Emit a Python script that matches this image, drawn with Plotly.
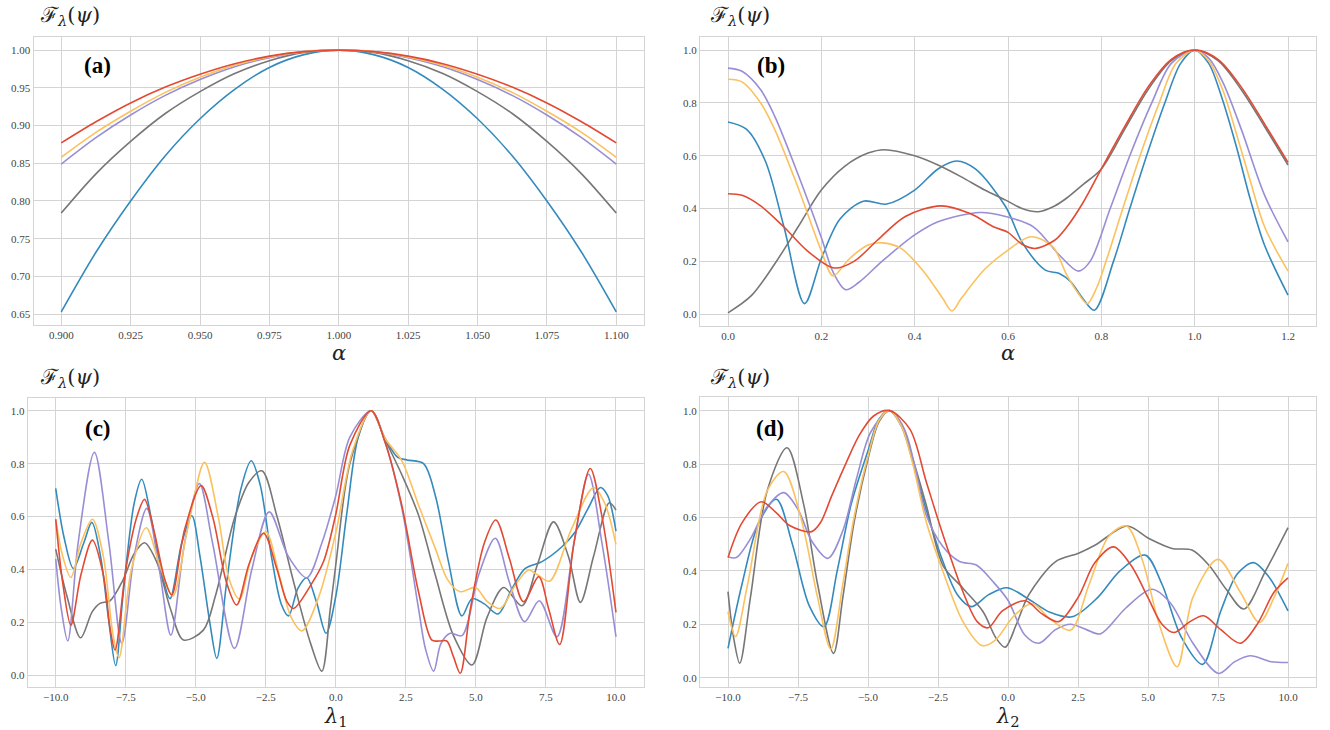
import plotly.graph_objects as go

W, H = 1330, 730
COLORS = {"red": "#E24A33", "blue": "#348ABD", "purple": "#988ED5", "gray": "#777777", "yellow": "#FBC15E"}
ORDER = ["blue", "gray", "purple", "yellow", "red"]

# ---------------- panel (a) ----------------
alpha_a = [0.900, 0.9125, 0.925, 0.9375, 0.950, 0.9625, 0.975, 0.9875, 1.000,
           1.0125, 1.025, 1.0375, 1.050, 1.0625, 1.075, 1.0875, 1.100]
a_blue = [0.653, 0.732, 0.800, 0.860, 0.909, 0.948, 0.977, 0.994, 1.0,
          0.994, 0.977, 0.948, 0.909, 0.860, 0.800, 0.732, 0.653]
a_gray = [0.784, 0.836, 0.879, 0.916, 0.945, 0.969, 0.986, 0.997, 1.0,
          0.997, 0.986, 0.969, 0.945, 0.916, 0.879, 0.836, 0.784]
a_purple = [0.849, 0.884, 0.914, 0.940, 0.961, 0.978, 0.990, 0.998, 1.0,
            0.998, 0.990, 0.978, 0.961, 0.940, 0.914, 0.884, 0.849]
a_yellow = [0.858, 0.891, 0.919, 0.944, 0.964, 0.980, 0.991, 0.998, 1.0,
            0.998, 0.991, 0.980, 0.964, 0.944, 0.919, 0.891, 0.858]
a_red = [0.877, 0.905, 0.930, 0.951, 0.968, 0.982, 0.992, 0.998, 1.0,
         0.998, 0.992, 0.982, 0.968, 0.951, 0.930, 0.905, 0.877]

# ---------------- panel (b) ----------------
b_blue_x = [0, 0.04, 0.08, 0.12, 0.164, 0.2, 0.24, 0.29, 0.34, 0.4, 0.45, 0.49, 0.53, 0.595, 0.631, 0.68, 0.71,
            0.735, 0.76, 0.785, 0.826, 0.861, 0.897, 0.936, 0.97, 1.0, 1.03, 1.06, 1.09, 1.12, 1.15, 1.2]
b_blue_y = [0.728, 0.70, 0.58, 0.33, 0.04, 0.21, 0.36, 0.428, 0.417, 0.47, 0.55, 0.58, 0.55, 0.407, 0.27, 0.167, 0.154,
            0.122, 0.06, 0.015, 0.2, 0.4, 0.6, 0.8, 0.95, 1.0, 0.95, 0.81, 0.63, 0.43, 0.26, 0.072]
b_red_x = [0, 0.03, 0.07, 0.12, 0.17, 0.227, 0.27, 0.32, 0.38, 0.456, 0.52, 0.57, 0.6, 0.63, 0.658, 0.7, 0.726,
           0.76, 0.8, 0.85, 0.9, 0.95, 1.0, 1.05, 1.1, 1.15, 1.2]
b_red_y = [0.456, 0.45, 0.41, 0.33, 0.24, 0.175, 0.2, 0.28, 0.37, 0.41, 0.38, 0.33, 0.31, 0.265, 0.249, 0.28, 0.33,
           0.42, 0.55, 0.71, 0.86, 0.965, 1.0, 0.965, 0.86, 0.72, 0.575]
b_gray_x = [0, 0.05, 0.1, 0.15, 0.2, 0.25, 0.3, 0.335, 0.4, 0.45, 0.5, 0.55, 0.595, 0.63, 0.665, 0.7, 0.726, 0.76,
            0.8, 0.85, 0.9, 0.95, 1.0, 1.05, 1.1, 1.15, 1.2]
b_gray_y = [0.005, 0.07, 0.19, 0.33, 0.47, 0.56, 0.61, 0.623, 0.6, 0.565, 0.52, 0.47, 0.432, 0.4, 0.388, 0.41, 0.44,
            0.49, 0.55, 0.7, 0.85, 0.96, 1.0, 0.96, 0.85, 0.71, 0.565]
b_purple_x = [0, 0.03, 0.07, 0.1, 0.15, 0.2, 0.225, 0.252, 0.28, 0.33, 0.4, 0.45, 0.54, 0.595, 0.655, 0.71, 0.751,
              0.776, 0.819, 0.861, 0.908, 0.95, 1.0, 1.03, 1.06, 1.1, 1.15, 1.2]
b_purple_y = [0.932, 0.92, 0.85, 0.75, 0.53, 0.29, 0.16, 0.093, 0.12, 0.2, 0.3, 0.35, 0.385, 0.37, 0.33, 0.224, 0.163,
              0.2, 0.4, 0.6, 0.8, 0.95, 1.0, 0.97, 0.88, 0.7, 0.45, 0.274]
b_yellow_x = [0, 0.03, 0.07, 0.1, 0.15, 0.2, 0.225, 0.26, 0.3, 0.33, 0.37, 0.42, 0.46, 0.48, 0.5, 0.55, 0.595, 0.649,
              0.696, 0.726, 0.75, 0.77, 0.79, 0.81, 0.846, 0.883, 0.924, 0.96, 1.0, 1.03, 1.06, 1.09, 1.12, 1.15, 1.2]
b_yellow_y = [0.89, 0.88, 0.8, 0.7, 0.48, 0.24, 0.145, 0.21, 0.262, 0.27, 0.25, 0.16, 0.06, 0.012, 0.06, 0.17, 0.236,
              0.293, 0.255, 0.148, 0.08, 0.04, 0.1, 0.2, 0.4, 0.6, 0.8, 0.95, 1.0, 0.96, 0.85, 0.68, 0.5, 0.33, 0.163]

# ---------------- panel (c) ----------------
c_blue_x = [-10, -9.7, -9.37, -9.0, -8.71, -8.4, -8.1, -7.86, -7.6, -7.2, -6.93, -6.6, -6.2, -5.92, -5.5, -5.14, -4.85,
            -4.5, -4.25, -3.9, -3.4, -3.02, -2.7, -2.3, -1.95, -1.69, -1.35, -1.04, -0.7, -0.35, 0, 0.4, 0.8, 1.26,
            1.76, 2.2, 2.54, 3.13, 3.55, 4.02, 4.5, 4.86, 5.3, 5.79, 6.3, 6.76, 7.36, 8.07, 8.55, 9.0, 9.44, 9.7, 10]
c_blue_y = [0.707, 0.52, 0.404, 0.5, 0.578, 0.45, 0.2, 0.037, 0.3, 0.65, 0.741, 0.6, 0.38, 0.29, 0.5, 0.603, 0.45,
            0.2, 0.064, 0.35, 0.7, 0.811, 0.72, 0.45, 0.27, 0.225, 0.33, 0.369, 0.28, 0.159, 0.30, 0.62, 0.9, 1.0,
            0.895, 0.825, 0.814, 0.80, 0.68, 0.43, 0.225, 0.29, 0.27, 0.232, 0.33, 0.404, 0.43, 0.486, 0.543, 0.63,
            0.71, 0.68, 0.545]
c_red_x = [-10, -9.75, -9.46, -9.1, -8.69, -8.3, -8.05, -7.88, -7.5, -7.1, -6.83, -6.5, -6.1, -5.86, -5.4, -4.81, -4.4,
           -3.9, -3.54, -3.1, -2.58, -2.1, -1.75, -1.51, -0.9, -0.44, 0, 0.5, 1.26, 1.76, 2.36, 2.95, 3.43, 3.7, 3.96,
           4.2, 4.44, 4.8, 5.3, 5.71, 6.2, 6.7, 7.24, 7.6, 7.99, 8.5, 9.08, 9.5, 10]
c_red_y = [0.59, 0.35, 0.19, 0.38, 0.511, 0.38, 0.17, 0.096, 0.4, 0.6, 0.665, 0.55, 0.36, 0.304, 0.55, 0.717, 0.6,
           0.35, 0.266, 0.42, 0.537, 0.4, 0.28, 0.253, 0.34, 0.43, 0.61, 0.87, 1.0, 0.88, 0.64, 0.316, 0.133, 0.13,
           0.13, 0.07, 0.008, 0.25, 0.5, 0.587, 0.44, 0.278, 0.373, 0.25, 0.117, 0.5, 0.782, 0.6, 0.238]
c_purple_x = [-10, -9.8, -9.57, -9.2, -8.62, -8.1, -7.64, -7.2, -6.75, -6.3, -5.89, -5.4, -4.87, -4.4, -3.62, -3.0,
              -2.38, -1.7, -1.04, -0.5, 0, 0.5, 1.26, 1.76, 2.36, 2.95, 3.2, 3.49, 3.75, 4.08, 4.5, 5.1, 5.69, 6.2,
              6.74, 7.26, 7.89, 8.5, 9.02, 9.5, 10]
c_purple_y = [0.44, 0.25, 0.13, 0.5, 0.843, 0.5, 0.121, 0.45, 0.631, 0.4, 0.152, 0.5, 0.725, 0.5, 0.102, 0.4,
              0.618, 0.45, 0.369, 0.5, 0.68, 0.9, 1.0, 0.88, 0.63, 0.253, 0.1, 0.016, 0.12, 0.159, 0.15, 0.38, 0.518,
              0.35, 0.203, 0.282, 0.146, 0.5, 0.76, 0.5, 0.146]
c_yellow_x = [-10, -9.75, -9.46, -9.1, -8.69, -8.3, -7.95, -7.74, -7.3, -6.77, -6.3, -5.82, -5.3, -4.69, -4.2, -3.8,
              -3.44, -3.0, -2.5, -2.0, -1.6, -1.21, -0.6, 0, 0.6, 1.26, 1.76, 2.36, 2.95, 3.55, 4.0, 4.44, 4.98, 5.4,
              5.87, 6.4, 6.88, 7.2, 7.63, 8.4, 9.2, 9.6, 10]
c_yellow_y = [0.59, 0.45, 0.37, 0.5, 0.59, 0.45, 0.15, 0.067, 0.4, 0.558, 0.42, 0.30, 0.55, 0.805, 0.6, 0.36,
              0.288, 0.45, 0.543, 0.37, 0.22, 0.168, 0.3, 0.54, 0.85, 1.0, 0.895, 0.81, 0.644, 0.48, 0.36, 0.316,
              0.332, 0.28, 0.253, 0.34, 0.398, 0.38, 0.356, 0.55, 0.71, 0.65, 0.495]
c_gray_x = [-10, -9.6, -9.11, -8.7, -8.42, -8.06, -7.6, -7.2, -6.83, -6.4, -5.9, -5.44, -4.73, -4.3, -3.6, -3.1, -2.64,
            -2.1, -1.5, -0.9, -0.5, -0.2, 0, 0.5, 1.26, 1.76, 2.36, 2.95, 3.55, 4.2, 4.86, 5.4, 5.99, 6.64, 7.2, 7.77,
            8.3, 8.73, 9.2, 9.76, 10]
c_gray_y = [0.477, 0.3, 0.142, 0.24, 0.272, 0.282, 0.36, 0.46, 0.501, 0.43, 0.25, 0.134, 0.171, 0.3, 0.6, 0.73, 0.773,
            0.6, 0.35, 0.12, 0.016, 0.25, 0.42, 0.8, 1.0, 0.89, 0.757, 0.606, 0.379, 0.15, 0.039, 0.22, 0.332, 0.263,
            0.42, 0.58, 0.45, 0.276, 0.45, 0.652, 0.625]

# ---------------- panel (d) ----------------
d_red_x = [-10, -9.5, -8.81, -8.3, -7.8, -7.02, -6.7, -6.3, -5.8, -5.3, -4.8, -4.23, -3.5, -2.92, -2.32, -1.61, -1.1,
           -0.71, -0.2, 0.62, 1.2, 1.81, 2.5, 3.1, 3.77, 4.4, 5.0, 5.5, 5.92, 6.5, 6.99, 7.6, 8.3, 8.9, 9.5, 10]
d_red_y = [0.45, 0.58, 0.659, 0.62, 0.57, 0.547, 0.58, 0.68, 0.8, 0.91, 0.98, 1.0, 0.93, 0.734, 0.534, 0.322, 0.21,
           0.187, 0.25, 0.288, 0.24, 0.21, 0.3, 0.43, 0.49, 0.42, 0.3, 0.2, 0.169, 0.21, 0.232, 0.18, 0.129, 0.2,
           0.32, 0.374]
d_gray_x = [-10, -9.8, -9.58, -9.2, -8.6, -7.89, -7.3, -6.8, -6.23, -5.9, -5.5, -5.0, -4.6, -4.23, -3.8, -3.4, -2.92,
            -2.32, -1.61, -0.89, -0.42, -0.1, 0.3, 0.74, 1.69, 2.52, 3.12, 4.25, 5.02, 5.86, 6.57, 7.17, 7.8, 8.42,
            9.2, 10]
d_gray_y = [0.322, 0.15, 0.054, 0.3, 0.7, 0.861, 0.65, 0.35, 0.091, 0.3, 0.58, 0.82, 0.96, 1.0, 0.95, 0.82, 0.647,
            0.42, 0.335, 0.247, 0.147, 0.114, 0.2, 0.31, 0.434, 0.466, 0.497, 0.568, 0.522, 0.484, 0.478, 0.422,
            0.33, 0.257, 0.4, 0.562]
d_yellow_x = [-10, -9.73, -9.3, -8.6, -8.01, -7.4, -6.8, -6.33, -5.9, -5.5, -5.0, -4.6, -4.23, -3.8, -3.4, -2.92,
              -2.32, -1.61, -0.92, -0.45, 0.2, 0.86, 1.5, 2.23, 2.9, 3.6, 4.23, 4.8, 5.4, 6.04, 6.6, 7.5, 8.3, 8.98,
              9.5, 10]
d_yellow_y = [0.247, 0.154, 0.35, 0.7, 0.772, 0.6, 0.3, 0.107, 0.35, 0.6, 0.83, 0.965, 1.0, 0.94, 0.8, 0.584,
              0.397, 0.21, 0.12, 0.141, 0.23, 0.278, 0.22, 0.178, 0.35, 0.53, 0.568, 0.44, 0.2, 0.041, 0.3, 0.443,
              0.32, 0.207, 0.3, 0.428]
d_blue_x = [-10, -9.5, -8.9, -8.27, -7.7, -7.1, -6.57, -6.1, -5.6, -5.0, -4.6, -4.23, -3.8, -3.4, -2.92, -2.32, -1.8,
            -1.31, -0.7, -0.04, 0.8, 1.5, 2.29, 3.2, 4.0, 4.9, 5.5, 6.2, 6.95, 7.6, 8.2, 8.77, 9.3, 10]
d_blue_y = [0.11, 0.35, 0.58, 0.668, 0.5, 0.27, 0.191, 0.4, 0.65, 0.85, 0.97, 1.0, 0.94, 0.81, 0.628, 0.434, 0.31,
            0.266, 0.31, 0.337, 0.29, 0.245, 0.228, 0.3, 0.4, 0.459, 0.35, 0.15, 0.05, 0.25, 0.39, 0.431, 0.38, 0.25]
d_purple_x = [-10, -9.7, -9.2, -8.6, -8.01, -7.5, -7.0, -6.43, -5.9, -5.4, -4.9, -4.23, -3.7, -3.3, -2.92, -2.32,
              -1.73, -1.13, -0.54, 0, 0.6, 1.1, 1.7, 2.23, 2.8, 3.3, 4.2, 5.14, 5.8, 6.6, 7.52, 8.1, 8.65, 9.4, 10]
d_purple_y = [0.453, 0.45, 0.52, 0.64, 0.693, 0.63, 0.51, 0.447, 0.55, 0.75, 0.92, 1.0, 0.93, 0.78, 0.609, 0.49,
              0.435, 0.422, 0.36, 0.29, 0.16, 0.129, 0.18, 0.2, 0.18, 0.164, 0.26, 0.331, 0.28, 0.13, 0.016, 0.06,
              0.082, 0.06, 0.057]

panels = {
    "a": {"blue": (alpha_a, a_blue), "gray": (alpha_a, a_gray), "purple": (alpha_a, a_purple),
          "yellow": (alpha_a, a_yellow), "red": (alpha_a, a_red)},
    "b": {"blue": (b_blue_x, b_blue_y), "gray": (b_gray_x, b_gray_y), "purple": (b_purple_x, b_purple_y),
          "yellow": (b_yellow_x, b_yellow_y), "red": (b_red_x, b_red_y)},
    "c": {"blue": (c_blue_x, c_blue_y), "gray": (c_gray_x, c_gray_y), "purple": (c_purple_x, c_purple_y),
          "yellow": (c_yellow_x, c_yellow_y), "red": (c_red_x, c_red_y)},
    "d": {"blue": (d_blue_x, d_blue_y), "gray": (d_gray_x, d_gray_y), "purple": (d_purple_x, d_purple_y),
          "yellow": (d_yellow_x, d_yellow_y), "red": (d_red_x, d_red_y)},
}
axis_ids = {"a": ("x", "y"), "b": ("x2", "y2"), "c": ("x3", "y3"), "d": ("x4", "y4")}

fig = go.Figure()
for p, series in panels.items():
    xa, ya = axis_ids[p]
    for name in ORDER:
        xs, ys = series[name]
        fig.add_trace(go.Scatter(x=xs, y=ys, mode="lines", xaxis=xa, yaxis=ya, showlegend=False,
                                 line=dict(color=COLORS[name], width=1.6, shape="spline", smoothing=0.9),
                                 hoverinfo="skip"))

# pixel geometry -> paper domains
def xdom(l, r):
    return [l / W, r / W]

def ydom(t, b):
    return [1 - b / H, 1 - t / H]

tickfont = dict(family="Liberation Serif, DejaVu Serif, serif", size=11, color="#444444")
common = dict(showgrid=True, gridcolor="#d4d4d4", gridwidth=1, zeroline=False, showline=True, linecolor="#d4d4d4",
              linewidth=1, mirror=True, ticks="", tickfont=tickfont)

fig.update_layout(
    width=W, height=H, margin=dict(l=0, r=0, t=0, b=0), paper_bgcolor="white", plot_bgcolor="white",
    xaxis=dict(domain=xdom(33.5, 644), range=[0.89, 1.11], tickvals=[0.9 + 0.025 * i for i in range(9)],
               tickformat=".3f", anchor="y", **common),
    yaxis=dict(domain=ydom(37, 325), range=[0.6356, 1.0174], tickvals=[0.65 + 0.05 * i for i in range(8)],
               tickformat=".2f", anchor="x", **common),
    xaxis2=dict(domain=xdom(700, 1316), range=[-0.06, 1.26], tickvals=[0, 0.2, 0.4, 0.6, 0.8, 1.0, 1.2],
                tickformat=".1f", anchor="y2", **common),
    yaxis2=dict(domain=ydom(37, 326), range=[-0.0448, 1.0498], tickvals=[0, 0.2, 0.4, 0.6, 0.8, 1.0],
                tickformat=".1f", anchor="x2", **common),
    xaxis3=dict(domain=xdom(27.7, 644), range=[-11, 11], tickvals=[-10 + 2.5 * i for i in range(9)],
                tickformat=".1f", anchor="y3", **common),
    yaxis3=dict(domain=ydom(397.5, 686.5), range=[-0.042, 1.05], tickvals=[0, 0.2, 0.4, 0.6, 0.8, 1.0],
                tickformat=".1f", anchor="x3", **common),
    xaxis4=dict(domain=xdom(700, 1316), range=[-11, 11], tickvals=[-10 + 2.5 * i for i in range(9)],
                tickformat=".1f", anchor="y4", **common),
    yaxis4=dict(domain=ydom(397.3, 686.5), range=[-0.033, 1.05], tickvals=[0, 0.2, 0.4, 0.6, 0.8, 1.0],
                tickformat=".1f", anchor="x4", **common),
)

ann = []
ylab = "ℱ<sub><i>λ</i></sub>(<i>ψ</i>)"
for (px, py) in [(38, 16), (708, 16), (38, 378), (708, 378)]:
    ann.append(dict(text=ylab, x=px / W, y=1 - py / H, xref="paper", yref="paper", xanchor="left",
                    yanchor="middle", showarrow=False,
                    font=dict(family="DejaVu Serif, Liberation Serif, serif", size=21, color="#222222")))
xlabels = [("<i>α</i>", 339, 353, 21), ("<i>α</i>", 1008, 353, 21),
           ("<i>λ</i><sub>1</sub>", 336, 717, 21), ("<i>λ</i><sub>2</sub>", 1008, 717, 21)]
for t, px, py, fs in xlabels:
    ann.append(dict(text=t, x=px / W, y=1 - py / H, xref="paper", yref="paper", xanchor="center",
                    yanchor="middle", showarrow=False,
                    font=dict(family="DejaVu Serif, Liberation Serif, serif", size=fs, color="#222222")))
for t, px, py in [("(a)", 97, 66), ("(b)", 771, 66), ("(c)", 98, 428), ("(d)", 770, 428)]:
    ann.append(dict(text="<b>" + t + "</b>", x=px / W, y=1 - py / H, xref="paper", yref="paper",
                    xanchor="center", yanchor="middle", showarrow=False,
                    font=dict(family="Liberation Serif, DejaVu Serif, serif", size=23, color="#000000")))
fig.update_layout(annotations=ann)

fig.write_html("out.html")
